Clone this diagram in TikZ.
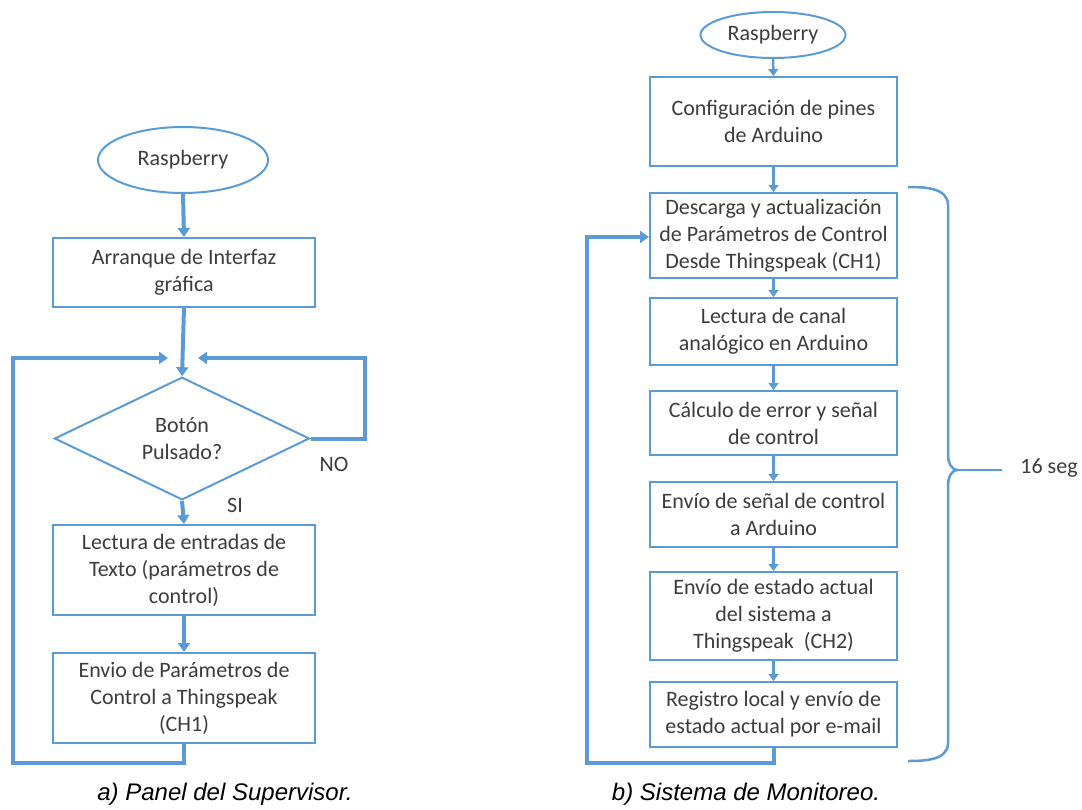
\documentclass[tikz,border=0pt]{standalone}
\usepackage{fontspec}
\setmainfont{Carlito}
\newfontfamily\capfont{Liberation Sans}
\usetikzlibrary{shapes.geometric,arrows.meta}
\definecolor{lblue}{RGB}{91,155,213}
\definecolor{tgray}{RGB}{60,60,60}
\begin{document}
\begin{tikzpicture}[x=1pt,y=-1pt,
  txt/.style={text=tgray,font=\fontsize{22}{27}\selectfont,align=center},
  lbox/.style={txt,draw=lblue,line width=2pt,minimum width=262pt,inner sep=0pt},
  rbox/.style={txt,draw=lblue,line width=2pt,minimum width=247pt,inner sep=0pt},
  oval/.style={txt,ellipse,draw=lblue,line width=2pt,inner sep=0pt},
  decision/.style={txt,diamond,draw=lblue,line width=2pt,inner sep=0pt,minimum width=255pt,minimum height=103pt},
  thick flow/.style={draw=lblue,line width=4pt,-{Triangle[width=12pt,length=9pt]}},
  thin flow/.style={draw=lblue,line width=2.5pt,-{Triangle[width=10pt,length=7pt]}},
  caption/.style={font=\capfont\itshape\fontsize{24}{28}\selectfont,text=black}]
\useasboundingbox (0,0) rectangle (1082,809);

% ---------- left chart ----------
\node[oval,minimum width=170pt,minimum height=66pt] (e1) at (183,160) {Raspberry};
\node[lbox,minimum height=69pt] (b1) at (184,272.5) {Arranque de Interfaz\\gráfica};
\node[decision] (d1) at (182,438.5) {Botón\\Pulsado?};
\node[lbox,minimum height=90pt] (b2) at (184,570) {Lectura de entradas de\\Texto (parámetros de\\control)};
\node[lbox,minimum height=90pt] (b3) at (184,698) {Envio de Parámetros de\\Control a Thingspeak\\(CH1)};
\coordinate (jl) at (168,358);
\coordinate (jr) at (198,358);
\coordinate (lbl) at (13,763);
\coordinate (ltl) at (13,358);
\coordinate (rtr) at (365,358);
\coordinate (rbr) at (365,438.5);

\draw[thick flow] (e1.south) -- (b1.north);
\draw[thick flow] (b1.south) -- (d1.north);
\draw[thick flow] (d1.south) -- (b2.north);
\draw[thick flow] (b2.south) -- (b3.north);
\draw[thick flow] (b3.south) |- (lbl) -- (ltl) -- (jl);
\draw[thick flow] (d1.east) -- (rbr) -- (rtr) -- (jr);
\node[txt] (no) at (334,464) {NO};
\node[txt] (si) at (235,505) {SI};

% ---------- right chart ----------
\node[oval,minimum width=145pt,minimum height=46pt] (e2) at (773,35) {Raspberry};
\node[rbox,minimum height=89pt] (r1) at (773.5,121.5) {Configuración de pines\\de Arduino};
\node[rbox,minimum height=85pt] (r2) at (773.5,235.5) {Descarga y actualización\\de Parámetros de Control\\Desde Thingspeak (CH1)};
\node[rbox,minimum height=67pt] (r3) at (773.5,331.5) {Lectura de canal\\analógico en Arduino};
\node[rbox,minimum height=64pt] (r4) at (773.5,423) {Cálculo de error y señal\\de control};
\node[rbox,minimum height=65pt] (r5) at (773.5,514.5) {Envío de señal de control\\a Arduino};
\node[rbox,minimum height=88pt] (r6) at (773.5,616) {Envío de estado actual\\del sistema a\\Thingspeak\ \ (CH2)};
\node[rbox,minimum height=65pt] (r7) at (773.5,714.5) {Registro local y envío de\\estado actual por e-mail};

\draw[thin flow] (e2.south) -- (r1.north);
\draw[thin flow] (r1.south) -- (r2.north);
\draw[thin flow] (r2.south) -- (r3.north);
\draw[thin flow] (r3.south) -- (r4.north);
\draw[thin flow] (r4.south) -- (r5.north);
\draw[thin flow] (r5.south) -- (r6.north);
\draw[thin flow] (r6.south) -- (r7.north);

\coordinate (rb) at (587,763);
\coordinate (rt) at (587,237);
\draw[thick flow] (r7.south) |- (rb) -- (rt) -- (r2.west |- rt);

% brace
\coordinate (bt) at (908,187);
\coordinate (bm) at (958,470);
\coordinate (bb) at (908,761);
\coordinate (be) at (1002,470);
\draw[draw=lblue,line width=2.5pt,line join=round]
  (bt) to[out=0,in=90] (948,205) -- (948,455) to[out=-90,in=180] (bm)
  to[out=180,in=90] (948,485) -- (948,743) to[out=-90,in=0] (bb);
\draw[draw=lblue,line width=2.5pt] (bm) -- (be);
\node[txt] (seg) at (1049,468) {16 seg};

% captions
\node[caption] (capa) at (225,794) {a) Panel del Supervisor.};
\node[caption] (capb) at (746,794) {b) Sistema de Monitoreo.};
\end{tikzpicture}
\end{document}
